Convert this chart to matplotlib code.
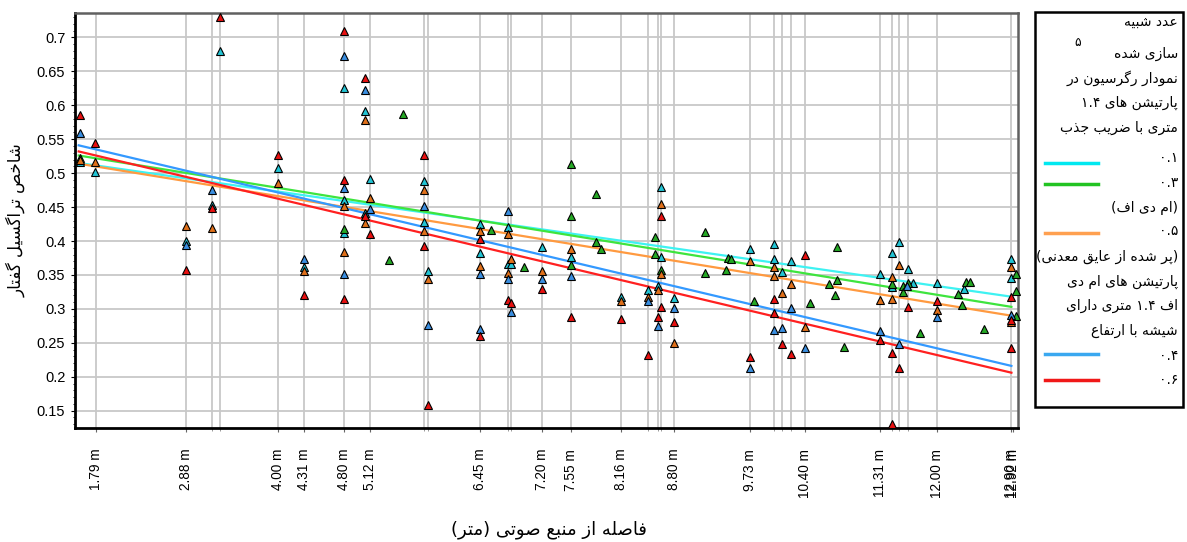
import re
import numpy as np
import matplotlib
matplotlib.use("Agg")
import matplotlib.pyplot as plt
from matplotlib.patches import Rectangle
from matplotlib.lines import Line2D

# ---- data: distance from source (m) and speech transmission index per partition ----
cyan_x = [1.60, 1.78, 3.30, 2.88, 3.20, 4.00, 4.31, 4.80, 4.80, 4.80, 5.05, 5.05, 5.12, 5.77, 5.77,
          5.82, 6.45, 6.45, 6.79, 6.79, 6.83, 7.20, 7.55, 8.16, 8.49, 8.65, 8.65, 8.61, 8.80, 9.73,
          10.02, 10.02, 10.11, 10.23, 11.31, 11.45, 11.45, 11.54, 11.65, 11.71, 12.00, 12.32, 12.90, 12.90]
cyan_y = [0.517, 0.502, 0.680, 0.400, 0.453, 0.508, 0.362, 0.625, 0.461, 0.412, 0.591, 0.441, 0.491, 0.489, 0.428,
          0.356, 0.425, 0.382, 0.420, 0.366, 0.366, 0.391, 0.377, 0.318, 0.328, 0.479, 0.377, 0.334, 0.316, 0.388,
          0.396, 0.373, 0.355, 0.370, 0.352, 0.382, 0.332, 0.398, 0.359, 0.338, 0.338, 0.330, 0.373, 0.346]

green_x = [1.60, 5.52, 5.35, 4.80, 6.58, 6.98, 7.55, 7.55, 7.55, 7.86, 7.86, 7.92, 8.57, 8.57, 8.65,
           9.18, 9.18, 9.44, 9.46, 9.50, 9.78, 10.46, 10.78, 10.78, 10.69, 10.76, 10.87, 11.45, 11.58, 11.58,
           11.65, 11.79, 12.25, 12.30, 12.35, 12.40, 12.57, 12.96, 12.96, 12.96]
green_y = [0.522, 0.587, 0.372, 0.417, 0.416, 0.361, 0.513, 0.437, 0.364, 0.469, 0.398, 0.388, 0.406, 0.381, 0.357,
           0.413, 0.353, 0.357, 0.375, 0.373, 0.311, 0.308, 0.391, 0.342, 0.336, 0.321, 0.244, 0.336, 0.333, 0.325,
           0.338, 0.264, 0.322, 0.306, 0.339, 0.339, 0.271, 0.352, 0.326, 0.290]

orange_x = [1.60, 1.78, 2.88, 3.20, 4.00, 4.31, 4.80, 4.80, 5.05, 5.05, 5.12, 5.77, 5.77, 5.82, 6.45,
            6.45, 6.79, 6.79, 6.83, 7.20, 7.55, 8.16, 8.49, 8.65, 8.65, 8.61, 8.80, 9.73, 10.02, 10.02,
            10.11, 10.23, 10.40, 11.31, 11.45, 11.45, 11.54, 12.00, 12.90, 12.90]
orange_y = [0.519, 0.517, 0.422, 0.419, 0.486, 0.356, 0.452, 0.384, 0.579, 0.426, 0.463, 0.475, 0.415, 0.344, 0.415,
            0.363, 0.411, 0.353, 0.373, 0.356, 0.388, 0.312, 0.318, 0.455, 0.351, 0.328, 0.250, 0.370, 0.362, 0.349,
            0.324, 0.337, 0.273, 0.313, 0.347, 0.314, 0.364, 0.299, 0.362, 0.280]

blue_x = [1.60, 2.88, 3.20, 4.31, 4.80, 4.80, 4.80, 5.05, 5.12, 5.77, 5.82, 6.45, 6.45, 6.79, 6.79,
          6.83, 7.20, 7.55, 8.49, 8.61, 8.80, 9.73, 10.02, 10.11, 10.23, 10.40, 11.31, 11.54, 11.63, 12.00,
          12.90]
blue_y = [0.559, 0.394, 0.475, 0.373, 0.673, 0.478, 0.351, 0.623, 0.447, 0.452, 0.276, 0.352, 0.271, 0.444, 0.344,
          0.296, 0.344, 0.348, 0.311, 0.275, 0.301, 0.213, 0.269, 0.272, 0.302, 0.243, 0.268, 0.249, 0.334, 0.288,
          0.291]

red_x = [1.60, 1.78, 3.30, 2.88, 3.20, 4.00, 4.31, 4.80, 4.80, 4.80, 5.05, 5.05, 5.12, 5.77, 5.77,
         5.82, 6.45, 6.45, 6.79, 6.83, 7.20, 7.55, 8.16, 8.49, 8.65, 8.65, 8.61, 8.80, 9.73, 10.02,
         10.02, 10.11, 10.23, 10.40, 11.31, 11.45, 11.45, 11.54, 11.64, 12.00, 12.90, 12.90, 12.90]
red_y = [0.586, 0.545, 0.730, 0.357, 0.449, 0.527, 0.320, 0.709, 0.490, 0.315, 0.640, 0.437, 0.410, 0.527, 0.392,
         0.159, 0.403, 0.260, 0.313, 0.309, 0.329, 0.288, 0.285, 0.232, 0.437, 0.303, 0.288, 0.280, 0.229, 0.314,
         0.294, 0.248, 0.233, 0.380, 0.254, 0.235, 0.130, 0.213, 0.303, 0.311, 0.317, 0.284, 0.243]

# regression lines (value at start and end of the fitted range)
fit_x = [1.58, 12.90]
fit_cyan = [0.515, 0.318]
fit_green = [0.526, 0.303]
fit_orange = [0.514, 0.290]
fit_blue = [0.541, 0.216]
fit_red = [0.532, 0.206]

# distances at which measurements were taken (vertical grid)
grid_dist = [1.79, 2.88, 3.20, 3.30, 4.00, 4.31, 4.80, 5.12, 5.77, 5.82, 6.45, 6.79, 6.83, 7.20, 7.55,
             8.16, 8.49, 8.61, 8.65, 8.80, 9.73, 10.02, 10.11, 10.23, 10.40, 11.31, 11.45, 11.54, 11.65,
             12.00, 12.90]
tick_dist = [1.79, 2.88, 4.00, 4.31, 4.80, 5.12, 6.45, 7.20, 7.55, 8.16, 8.80, 9.73, 10.40, 11.31,
             12.00, 12.90, 12.92]
y_ticks = [0.15, 0.2, 0.25, 0.3, 0.35, 0.4, 0.45, 0.5, 0.55, 0.6, 0.65, 0.7]

# ---- minimal Persian shaping (presentation forms + visual order) ----
FORMS = {
    'ا': ('\uFE8D', '\uFE8E', None, None),
    'ب': ('\uFE8F', '\uFE90', '\uFE91', '\uFE92'),
    'پ': ('\uFB56', '\uFB57', '\uFB58', '\uFB59'),
    'ت': ('\uFE95', '\uFE96', '\uFE97', '\uFE98'),
    'ج': ('\uFE9D', '\uFE9E', '\uFE9F', '\uFEA0'),
    'خ': ('\uFEA5', '\uFEA6', '\uFEA7', '\uFEA8'),
    'د': ('\uFEA9', '\uFEAA', None, None),
    'ذ': ('\uFEAB', '\uFEAC', None, None),
    'ر': ('\uFEAD', '\uFEAE', None, None),
    'ز': ('\uFEAF', '\uFEB0', None, None),
    'س': ('\uFEB1', '\uFEB2', '\uFEB3', '\uFEB4'),
    'ش': ('\uFEB5', '\uFEB6', '\uFEB7', '\uFEB8'),
    'ص': ('\uFEB9', '\uFEBA', '\uFEBB', '\uFEBC'),
    'ض': ('\uFEBD', '\uFEBE', '\uFEBF', '\uFEC0'),
    'ع': ('\uFEC9', '\uFECA', '\uFECB', '\uFECC'),
    'ف': ('\uFED1', '\uFED2', '\uFED3', '\uFED4'),
    'ق': ('\uFED5', '\uFED6', '\uFED7', '\uFED8'),
    'گ': ('\uFB92', '\uFB93', '\uFB94', '\uFB95'),
    'ل': ('\uFEDD', '\uFEDE', '\uFEDF', '\uFEE0'),
    'م': ('\uFEE1', '\uFEE2', '\uFEE3', '\uFEE4'),
    'ن': ('\uFEE5', '\uFEE6', '\uFEE7', '\uFEE8'),
    'و': ('\uFEED', '\uFEEE', None, None),
    'ه': ('\uFEE9', '\uFEEA', '\uFEEB', '\uFEEC'),
    'ی': ('\uFBFC', '\uFBFD', '\uFBFE', '\uFBFF'),
}
MIRROR = str.maketrans('()', ')(')


def shape(s):
    out = []
    for i, c in enumerate(s):
        if c not in FORMS:
            out.append(c)
            continue
        prev = s[i - 1] if i > 0 else None
        nxt = s[i + 1] if i + 1 < len(s) else None
        jp = prev in FORMS and FORMS[prev][2] is not None
        jn = nxt in FORMS and FORMS[c][2] is not None
        iso, fin, ini, med = FORMS[c]
        if jp and jn:
            out.append(med)
        elif jp:
            out.append(fin)
        elif jn:
            out.append(ini)
        else:
            out.append(iso)
    return ''.join(out)


def fa(s):
    s = shape(s)
    runs = re.findall(r'[0-9\u06F0-\u06F9.]+|[^0-9\u06F0-\u06F9.]+', s)
    out = []
    for r in reversed(runs):
        if re.match(r'[0-9\u06F0-\u06F9]', r):
            out.append(r)
        else:
            out.append(r[::-1].translate(MIRROR))
    return ''.join(out)


plt.rcParams['font.family'] = ['Liberation Sans', 'DejaVu Sans']
FA_FONT = ['DejaVu Sans']

W, H = 1187, 542
fig = plt.figure(figsize=(W / 100, H / 100), dpi=100)
ax = fig.add_axes([75 / W, 1 - 428 / H, (1018 - 75) / W, (428 - 13) / H])

ax.set_xlim(1.535, 12.98)
ax.set_ylim(0.1245, 0.736)

ax.vlines(grid_dist, 0, 1, transform=ax.get_xaxis_transform(), color='#c8c8c8', lw=1.3, zorder=0)
ax.set_yticks(y_ticks)
ax.set_yticklabels([f'{v:g}' for v in y_ticks], fontsize=10.5)
ax.set_yticks(np.arange(0.13, 0.736, 0.01), minor=True)
ax.grid(axis='y', which='major', color='#c8c8c8', lw=1.3, zorder=0)
ax.set_axisbelow(True)

ax.set_xticks(tick_dist)
ax.set_xticklabels([f'{d:.2f} m' for d in tick_dist], rotation=90, fontsize=9.8)
ax.set_xticks(grid_dist, minor=True)
ax.tick_params(axis='x', which='major', length=3, pad=12, color='#666666')
ax.tick_params(axis='x', which='minor', length=2, color='#888888')
ax.tick_params(axis='y', which='major', length=3, pad=4)
ax.tick_params(axis='y', which='minor', length=1.5)

for side in ['left', 'bottom']:
    ax.spines[side].set_color('black')
    ax.spines[side].set_linewidth(2)
for side in ['top', 'right']:
    ax.spines[side].set_color('#606060')
    ax.spines[side].set_linewidth(1.8)

series = [
    (cyan_x, cyan_y, fit_cyan, '#22c4d4', '#3ef2f2'),
    (green_x, green_y, fit_green, '#25a825', '#3ee43e'),
    (orange_x, orange_y, fit_orange, '#e0701a', '#ff9a40'),
    (blue_x, blue_y, fit_blue, '#3a8ee0', '#3399ff'),
    (red_x, red_y, fit_red, '#e81010', '#ff2020'),
]
for xs, ys, fit, mcol, lcol in series:
    ax.plot(fit_x, fit, color=lcol, lw=1.6, zorder=2)
for xs, ys, fit, mcol, lcol in series:
    ax.plot(xs, ys, ls='none', marker='^', ms=5.3, mfc=mcol, mec='black', mew=0.8,
            zorder=3, clip_on=False)

ax.set_ylabel(fa('شاخص تراگسیل گفتار'), family=FA_FONT, fontsize=12, labelpad=8)
fig.text(549 / W, 1 - 530 / H, fa('فاصله از منبع صوتی (متر)'), family=FA_FONT,
         fontsize=13, ha='center', va='center')

# legend box
fig.patches.append(Rectangle((1035 / W, 1 - 407 / H), (1183 - 1035) / W, (407 - 12) / H,
                             transform=fig.transFigure, fill=False, ec='black', lw=1.8))
rx = 1178 / W
legend_text = [
    ('عدد شبیه', 22), ('سازی شده', 54), ('نمودار رگرسیون در', 78), ('پارتیشن های ۱.۴', 103),
    ('متری با ضریب جذب', 128), ('۰.۱', 158), ('۰.۳', 183), ('(ام دی اف)', 208), ('۰.۵', 231),
    ('(پر شده از عایق معدنی)', 257), ('پارتیشن های ام دی', 282), ('اف ۱.۴ متری دارای', 306),
    ('شیشه با ارتفاع', 331), ('۰.۴', 356), ('۰.۶', 380),
]
for txt, py in legend_text:
    fig.text(rx, 1 - py / H, fa(txt), family=FA_FONT, fontsize=10, ha='right', va='center')
fig.text(1078 / W, 1 - 43 / H, '۵', family=FA_FONT, fontsize=9, ha='center', va='center')

legend_lines = [('#00e8f0', 163), ('#22c322', 184), ('#ffa050', 233), ('#3aa8f0', 354), ('#f01818', 380)]
for col, py in legend_lines:
    fig.add_artist(Line2D([1045 / W, 1098 / W], [1 - py / H, 1 - py / H], transform=fig.transFigure,
                          color=col, lw=2.5))

fig.savefig('out.png', dpi=100)
